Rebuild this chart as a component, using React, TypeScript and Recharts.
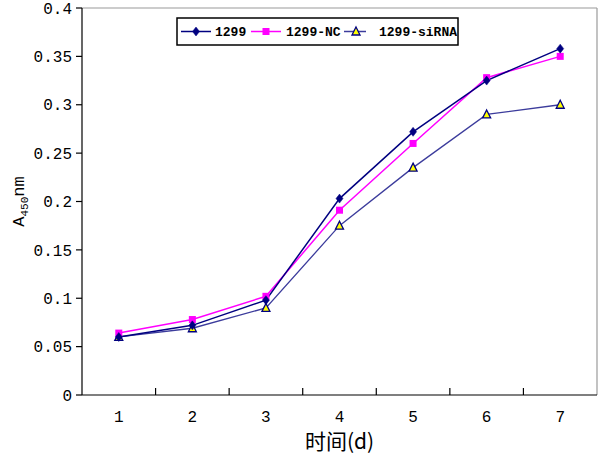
import React from "react";
import { LineChart, Line, XAxis, YAxis, Legend, ReferenceLine } from "recharts";

const categories = [1, 2, 3, 4, 5, 6, 7];
const series1299 = [0.06, 0.072, 0.098, 0.203, 0.272, 0.325, 0.358];
const seriesNC = [0.064, 0.078, 0.102, 0.191, 0.26, 0.328, 0.35];
const seriesSi = [0.06, 0.069, 0.09, 0.175, 0.235, 0.29, 0.3];
const yTicks = [0, 0.05, 0.1, 0.15, 0.2, 0.25, 0.3, 0.35, 0.4];
const seriesNames = ["1299", "1299-NC", "1299-siRNA"];

const xTicks: number[] = [];
categories.forEach((c, i) => {
  xTicks.push(c);
  if (i < categories.length - 1) xTicks.push(c + 0.5);
});

const data = categories.map((c, i) => ({
  day: c,
  a: series1299[i],
  b: seriesNC[i],
  c: seriesSi[i],
}));

const NAVY = "#000080";
const MAGENTA = "#FF00FF";
const SLATE = "#3c3c9c";
const MONO = "'Liberation Mono', 'DejaVu Sans Mono', monospace";

const Diamond = (props: any) => {
  const { cx, cy } = props;
  if (cx == null || cy == null) return null;
  return <path d={`M${cx},${cy - 4.5}L${cx + 3.5},${cy}L${cx},${cy + 4.5}L${cx - 3.5},${cy}Z`} fill={NAVY} stroke={NAVY} strokeWidth={0.5} />;
};
const Square = (props: any) => {
  const { cx, cy } = props;
  if (cx == null || cy == null) return null;
  return <rect x={cx - 3.5} y={cy - 3.5} width={7} height={7} fill={MAGENTA} />;
};
const Tri = (props: any) => {
  const { cx, cy } = props;
  if (cx == null || cy == null) return null;
  return <path d={`M${cx},${cy - 4.5}L${cx + 4},${cy + 3.5}L${cx - 4},${cy + 3.5}Z`} fill="#FFFF00" stroke={NAVY} strokeWidth={1.3} />;
};

const XTick = (props: any) => {
  const { x, y, payload } = props;
  const v = payload.value;
  if (Number.isInteger(v)) {
    return (
      <text x={x} y={y + 21} dy="0.35em" textAnchor="middle" fontFamily={MONO} fontSize={16} fill="#000">
        {v}
      </text>
    );
  }
  return <line x1={x} x2={x} y1={y} y2={y - 7} stroke="#000" strokeWidth={1.2} />;
};

const LegendBox = () => {
  const items = [
    { name: seriesNames[0], color: NAVY, l1: 5, l2: 35, m: 20, t: 39, shape: "d" },
    { name: seriesNames[1], color: MAGENTA, l1: 75, l2: 105, m: 90, t: 110, shape: "s" },
    { name: seriesNames[2], color: SLATE, l1: 168, l2: 190, m: 180, t: 203, shape: "t" },
  ];
  return (
    <svg width={283} height={29} style={{ display: "block" }}>
      <rect x={1} y={1} width={281} height={27} fill="#fff" stroke="#000" strokeWidth={1.5} />
      {items.map((it) => (
        <g key={it.name}>
          <line x1={it.l1} x2={it.l2} y1={14.5} y2={14.5} stroke={it.color} strokeWidth={1.5} />
          {it.shape === "d" && <Diamond cx={it.m} cy={14.5} />}
          {it.shape === "s" && <Square cx={it.m} cy={14.5} />}
          {it.shape === "t" && <Tri cx={it.m} cy={14.5} />}
          <text x={it.t} y={14.5} dy="0.35em" fontFamily={MONO} fontSize={13} fontWeight="bold" fill="#000">
            {it.name}
          </text>
        </g>
      ))}
    </svg>
  );
};

const YLabel = (props: any) => {
  const vb = props.viewBox || { x: 0, y: 8, width: 82, height: 387 };
  const cx = vb.x + 18;
  const cy = vb.y + vb.height / 2;
  return (
    <text transform={`translate(${cx},${cy}) rotate(-90)`} textAnchor="middle" dy="0.35em" fontFamily={MONO} fontSize={17} fill="#000">
      A<tspan fontSize={11} dy="4">450</tspan>
      <tspan dy="-4">nm</tspan>
    </text>
  );
};

const XLabel = (props: any) => {
  const vb = props.viewBox || { x: 82, y: 395, width: 515, height: 70 };
  return (
    <text x={vb.x + vb.width / 2} y={vb.y + 47} dy="0.35em" textAnchor="middle" fontFamily="'Noto Sans CJK SC', sans-serif" fontSize={21} fill="#000">
      时间(d)
    </text>
  );
};

export default function App() {
  return (
    <div style={{ position: "absolute", left: 0, top: 0, width: 600, height: 465, background: "#fff" }}>
      <LineChart width={600} height={465} data={data} margin={{ top: 8, right: 3, bottom: 0, left: 0 }}>
        <XAxis
          dataKey="day"
          type="number"
          domain={[0.5, 7.5]}
          ticks={xTicks}
          interval={0}
          tickLine={false}
          tickSize={0}
          tickMargin={0}
          height={70}
          axisLine={{ stroke: "#000", strokeWidth: 1.2 }}
          tick={<XTick />}
          label={{ content: <XLabel /> }}
        />
        <YAxis
          domain={[0, 0.4]}
          ticks={yTicks}
          interval={0}
          width={82}
          tickSize={6}
          tickMargin={4}
          axisLine={{ stroke: "#000", strokeWidth: 1.2 }}
          tickLine={{ stroke: "#000", strokeWidth: 1.2 }}
          tick={{ fill: "#000", fontFamily: MONO, fontSize: 16 }}
          label={{ content: <YLabel /> }}
        />
        <ReferenceLine y={0.4} stroke="#9a9a9a" strokeWidth={1.2} />
        <ReferenceLine x={7.5} stroke="#9a9a9a" strokeWidth={1.2} />
        <Legend
          layout="vertical"
          align="center"
          verticalAlign="middle"
          content={<LegendBox />}
          wrapperStyle={{ position: "absolute", left: 176, top: 17, width: 283, height: 29 }}
        />
        <Line dataKey="c" name={seriesNames[2]} stroke={SLATE} strokeWidth={1.3} dot={<Tri />} activeDot={false} isAnimationActive={false} />
        <Line dataKey="b" name={seriesNames[1]} stroke={MAGENTA} strokeWidth={1.5} dot={<Square />} activeDot={false} isAnimationActive={false} />
        <Line dataKey="a" name={seriesNames[0]} stroke={NAVY} strokeWidth={1.5} dot={<Diamond />} activeDot={false} isAnimationActive={false} />
      </LineChart>
    </div>
  );
}
